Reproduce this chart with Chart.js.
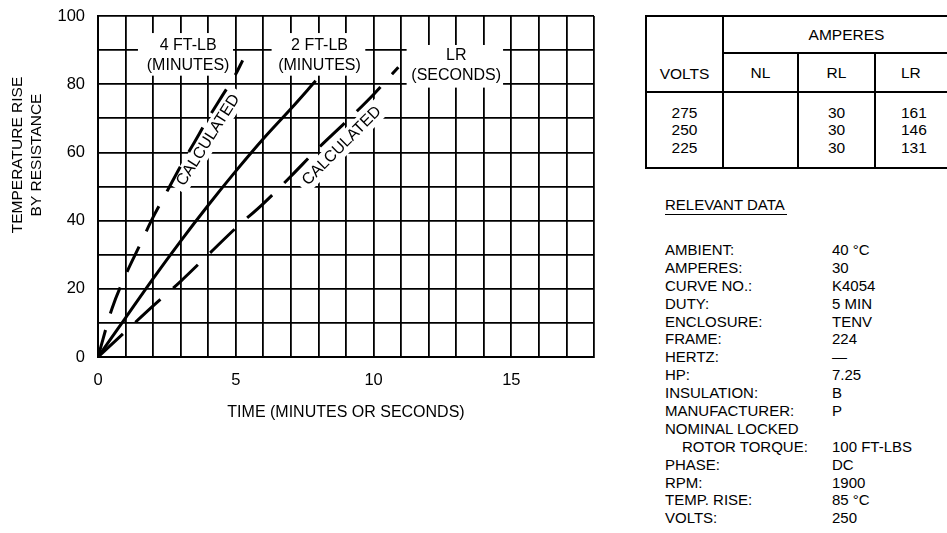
<!DOCTYPE html>
<html>
<head>
<meta charset="utf-8">
<script src="https://cdn.jsdelivr.net/npm/chart.js@4.4.1/dist/chart.umd.min.js"></script>
<style>
  html, body { margin: 0; padding: 0; background: #fff; width: 947px; height: 533px; overflow: hidden; }
  body { font-family: "Liberation Sans", Arial, sans-serif; color: #000; position: relative; }
  #chartBox { position: absolute; left: 0; top: 0; width: 620px; height: 533px; }
  #amps { position: absolute; left: 645px; top: 15px; width: 324px; border-collapse: collapse; table-layout: fixed; font-size: 15.5px; }
  #amps td { border: 2px solid #000; text-align: center; padding: 0; }
  #amps .volts { vertical-align: bottom; padding-bottom: 8px; }
  #amps .vals { line-height: 17.5px; vertical-align: middle; }
  #amps .lastcol { text-align: left; padding-left: 25px; }
  #relevant { position: absolute; left: 665px; top: 196px; font-size: 15px; }
  #relevant .head { display: inline-block; line-height: 18px; border-bottom: 1.5px solid #000; padding-right: 2px; }
  #relevant .rows { margin-top: 26px; }
  #relevant .row { position: relative; height: 17.9px; line-height: 17.9px; white-space: nowrap; }
  #relevant .val { position: absolute; left: 167px; top: 0; }
  #relevant .indent { padding-left: 17px; }
</style>
</head>
<body>
<div id="chartBox"><canvas id="tempChart"></canvas></div>

<table id="amps">
  <colgroup><col style="width:77px"><col style="width:75px"><col style="width:77px"><col style="width:95px"></colgroup>
  <tr style="height:37px"><td rowspan="2" class="volts">VOLTS</td><td colspan="3">AMPERES</td></tr>
  <tr style="height:39px"><td>NL</td><td>RL</td><td class="lastcol">LR</td></tr>
  <tr style="height:76px"><td class="vals" id="cVolts"></td><td class="vals" id="cNl"></td><td class="vals" id="cRl"></td><td class="vals lastcol" id="cLr"></td></tr>
</table>

<div id="relevant">
  <div class="head">RELEVANT DATA</div>
  <div class="rows" id="relRows"></div>
</div>

<script>
// Curve data (time, temperature rise)
const fourFtTime = [0, 0.5, 1, 1.5, 2, 2.5, 3, 3.5, 4, 4.5, 5, 5.25];
const fourFtRise = [0, 14, 24, 32.5, 41, 48.5, 56, 63, 70, 76.5, 83, 87];

const twoFtTime = [0, 1, 2, 3, 4, 5, 6, 7, 7.9];
const twoFtRise = [0, 11.5, 23, 34, 44.5, 54.5, 64, 72.8, 81];

const lrTime = [0, 1, 2, 3, 4, 5, 6, 7, 8, 9, 10, 10.9];
const lrRise = [0, 7.5, 15, 22.2, 30, 37.8, 45, 53, 61.3, 69, 77, 85];

// Tick labels shown on the axes
const xTickLabels = [0, 5, 10, 15];
const yTickLabels = [0, 20, 40, 60, 80, 100];

// Ampere table
const tableVolts = ['275', '250', '225'];
const tableNl = ['', '', ''];
const tableRl = ['30', '30', '30'];
const tableLr = ['161', '146', '131'];

// Relevant data list
const relLabels = ['AMBIENT:', 'AMPERES:', 'CURVE NO.:', 'DUTY:', 'ENCLOSURE:', 'FRAME:', 'HERTZ:', 'HP:',
  'INSULATION:', 'MANUFACTURER:', 'NOMINAL LOCKED', 'ROTOR TORQUE:', 'PHASE:', 'RPM:', 'TEMP. RISE:', 'VOLTS:'];
const relValues = ['40 °C', '30', 'K4054', '5 MIN', 'TENV', '224', '—', '7.25',
  'B', 'P', '', '100 FT-LBS', 'DC', '1900', '85 °C', '250'];

// fill the table
document.getElementById('cVolts').innerHTML = tableVolts.join('<br>');
document.getElementById('cNl').innerHTML = tableNl.join('<br>');
document.getElementById('cRl').innerHTML = tableRl.join('<br>');
document.getElementById('cLr').innerHTML = tableLr.join('<br>');

// fill the relevant data list
const relRows = document.getElementById('relRows');
relLabels.forEach((lab, i) => {
  const row = document.createElement('div');
  row.className = 'row';
  const l = document.createElement('span');
  l.textContent = lab;
  if (lab === 'ROTOR TORQUE:') l.className = 'indent';
  const v = document.createElement('span');
  v.className = 'val';
  v.textContent = relValues[i];
  row.appendChild(l);
  row.appendChild(v);
  relRows.appendChild(row);
});

function toPoints(xs, ys) {
  return xs.map((x, i) => ({ x: x, y: ys[i] }));
}

const FONT = '"Liberation Sans", Arial, sans-serif';

// labels written on the grid, with white patches behind them
const gridLabels = {
  boxes: [
    [1.45, 4.9, 82.5, 95],
    [6.3, 9.7, 82.5, 95],
    [11.2, 14.7, 79, 91.5]
  ],
  text: [
    { lines: ['4 FT-LB', '(MINUTES)'], x: 3.27, y: 91.3 },
    { lines: ['2 FT-LB', '(MINUTES)'], x: 8.04, y: 91.3 },
    { lines: ['LR', '(SECONDS)'], x: 13.0, y: 88.3 }
  ],
  rotated: [
    { text: 'CALCULATED', x: 4.0, y: 63.6, angle: -57.8 },
    { text: 'CALCULATED', x: 8.85, y: 61.9, angle: -45 }
  ]
};

const labelPlugin = {
  id: 'gridLabels',
  beforeDatasetsDraw(chart) {
    const { ctx, scales: { x, y } } = chart;
    ctx.save();
    ctx.fillStyle = '#fff';
    gridLabels.boxes.forEach(b => {
      const x0 = x.getPixelForValue(b[0]), x1 = x.getPixelForValue(b[1]);
      const y0 = y.getPixelForValue(b[3]), y1 = y.getPixelForValue(b[2]);
      ctx.fillRect(x0, y0, x1 - x0, y1 - y0);
    });
    gridLabels.rotated.forEach(r => {
      ctx.save();
      ctx.translate(x.getPixelForValue(r.x), y.getPixelForValue(r.y));
      ctx.rotate(r.angle * Math.PI / 180);
      ctx.fillRect(-58, -10, 116, 20);
      ctx.restore();
    });
    ctx.restore();
  },
  afterDatasetsDraw(chart) {
    const { ctx, scales: { x, y } } = chart;
    ctx.save();
    ctx.fillStyle = '#000';
    ctx.font = '16px ' + FONT;
    ctx.textAlign = 'center';
    ctx.textBaseline = 'middle';
    gridLabels.text.forEach(t => {
      const px = x.getPixelForValue(t.x);
      const py = y.getPixelForValue(t.y);
      t.lines.forEach((line, i) => ctx.fillText(line, px, py + i * 19.5));
    });
    gridLabels.rotated.forEach(r => {
      ctx.save();
      ctx.translate(x.getPixelForValue(r.x), y.getPixelForValue(r.y));
      ctx.rotate(r.angle * Math.PI / 180);
      ctx.fillText(r.text, 0, 0);
      ctx.restore();
    });
    ctx.restore();
  },
  afterDraw(chart) {
    // two-line y axis title, placed a bit above the middle like the original
    const ctx = chart.ctx;
    ctx.save();
    ctx.fillStyle = '#000';
    ctx.font = '15.5px ' + FONT;
    ctx.textAlign = 'center';
    ctx.textBaseline = 'middle';
    ctx.translate(0, 155);
    ctx.rotate(-Math.PI / 2);
    ctx.fillText('TEMPERATURE RISE', 0, 18);
    ctx.fillText('BY RESISTANCE', 0, 37);
    ctx.restore();
  }
};

const ctx = document.getElementById('tempChart').getContext('2d');
const tempChart = new Chart(ctx, {
  type: 'line',
  data: {
    datasets: [
      {
        label: '4 FT-LB (MINUTES)',
        data: toPoints(fourFtTime, fourFtRise),
        borderColor: '#000',
        borderWidth: 3,
        borderDash: [28, 17],
        pointRadius: 0,
        cubicInterpolationMode: 'monotone'
      },
      {
        label: '2 FT-LB (MINUTES)',
        data: toPoints(twoFtTime, twoFtRise),
        borderColor: '#000',
        borderWidth: 3,
        pointRadius: 0,
        cubicInterpolationMode: 'monotone'
      },
      {
        label: 'LR (SECONDS)',
        data: toPoints(lrTime, lrRise),
        borderColor: '#000',
        borderWidth: 3,
        borderDash: [34, 17],
        pointRadius: 0,
        cubicInterpolationMode: 'monotone'
      }
    ]
  },
  options: {
    responsive: true,
    maintainAspectRatio: false,
    animation: false,
    layout: { padding: { left: 0, right: 26, top: 16, bottom: 111 } },
    plugins: {
      legend: { display: false },
      tooltip: { enabled: false }
    },
    scales: {
      x: {
        type: 'linear',
        min: 0,
        max: 18,
        afterFit: (scale) => { scale.height = 65; },
        grid: { color: '#000', lineWidth: 1.8, drawTicks: false },
        border: { color: '#000', width: 2 },
        ticks: {
          stepSize: 1,
          autoSkip: false,
          maxRotation: 0,
          padding: 14,
          color: '#000',
          font: { family: FONT, size: 16.5 },
          callback: (v) => xTickLabels.includes(v) ? String(v) : ''
        },
        title: {
          display: true,
          text: 'TIME (MINUTES OR SECONDS)',
          color: '#000',
          font: { family: FONT, size: 16 },
          padding: { top: 0, bottom: 0 }
        }
      },
      y: {
        type: 'linear',
        min: 0,
        max: 100,
        afterFit: (scale) => { scale.width = 98; },
        grid: { color: '#000', lineWidth: 1.8, drawTicks: true, tickLength: 11, tickColor: 'rgba(0,0,0,0)' },
        border: { color: '#000', width: 2 },
        ticks: {
          stepSize: 10,
          autoSkip: false,
          padding: 2,
          color: '#000',
          font: { family: FONT, size: 16.5 },
          callback: (v) => yTickLabels.includes(v) ? String(v) : ''
        }
      }
    }
  },
  plugins: [labelPlugin]
});
</script>
</body>
</html>
